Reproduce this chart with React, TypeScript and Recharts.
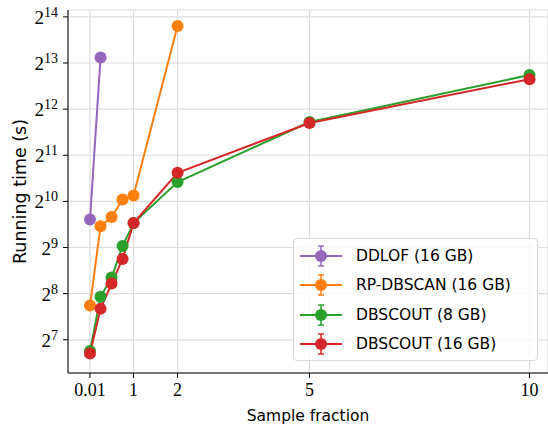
import React from "react"
import { CartesianGrid, Legend, Line, LineChart, XAxis, YAxis } from "recharts"

// sample fractions on the x axis
const fractions = [0.01, 0.25, 0.5, 0.75, 1, 2, 5, 10]

// running times in seconds
const ddlof16 = [781, 8905]
const rpdbscan16 = [214, 704, 809, 1053, 1120, 14263]
const dbscout8 = [108, 244, 326, 523, 739, 1370, 3373, 6841]
const dbscout16 = [104, 204, 298, 431, 739, 1574, 3327, 6428]

const xTicks = [0.01, 1, 2, 5, 10]
const yTicks = [128, 256, 512, 1024, 2048, 4096, 8192, 16384]

const series = [
  { key: "ddlof16", name: "DDLOF (16 GB)", color: "#9467bd", values: ddlof16 },
  { key: "rpdbscan16", name: "RP-DBSCAN (16 GB)", color: "#ff7f0e", values: rpdbscan16 },
  { key: "dbscout8", name: "DBSCOUT (8 GB)", color: "#2ca02c", values: dbscout8 },
  { key: "dbscout16", name: "DBSCOUT (16 GB)", color: "#d62728", values: dbscout16 },
]

const data = fractions.map((f, i) => {
  const row: Record<string, number | undefined> = { f }
  series.forEach((s) => {
    row[s.key] = s.values[i]
  })
  return row
})

const serif = "'Liberation Serif', 'DejaVu Serif', serif"
const sans = "'DejaVu Sans', sans-serif"

function PowTick(props: any) {
  const { x, y, payload } = props
  const e = Math.round(Math.log2(payload.value))
  return (
    <text x={x - 3} y={y + 7} textAnchor="end" fontFamily={serif} fontSize={19} fill="#000">
      <tspan>2</tspan>
      <tspan dy={-7} fontSize={14}>
        {e}
      </tspan>
    </text>
  )
}

function LegendBox() {
  return (
    <div
      style={{
        width: 245,
        height: 123,
        boxSizing: "border-box",
        border: "1px solid #d8d8d8",
        borderRadius: 4,
        background: "rgba(255,255,255,0.85)",
        paddingTop: 2,
      }}
    >
      {series.map((s) => (
        <div key={s.key} style={{ display: "flex", alignItems: "center", height: 29.5 }}>
          <svg width={62} height={24} style={{ flex: "none" }}>
            <line x1={6} x2={48} y1={12} y2={12} stroke={s.color} strokeWidth={2} />
            <line x1={27} x2={27} y1={2} y2={22} stroke={s.color} strokeWidth={1.5} />
            <line x1={24} x2={30} y1={2} y2={2} stroke={s.color} strokeWidth={1.5} />
            <line x1={24} x2={30} y1={22} y2={22} stroke={s.color} strokeWidth={1.5} />
            <circle cx={27} cy={12} r={6} fill={s.color} />
          </svg>
          <span style={{ fontFamily: sans, fontSize: 15.5, color: "#000", whiteSpace: "nowrap" }}>{s.name}</span>
        </div>
      ))}
    </div>
  )
}

export default function App() {
  return (
    <div style={{ position: "absolute", left: 0, top: 0, background: "#fff" }}>
      <LineChart width={548} height={424} data={data} margin={{ top: 10, right: 0, left: 0, bottom: 0 }}>
        <CartesianGrid stroke="#dcdcdc" strokeWidth={1.2} />
        <XAxis
          dataKey="f"
          type="number"
          domain={[-0.49, 10.42]}
          ticks={xTicks}
          allowDataOverflow
          height={51}
          tickSize={5}
          tickMargin={5}
          stroke="#000"
          tick={{ fontFamily: serif, fontSize: 18, fill: "#000" }}
          label={{ value: "Sample fraction", position: "insideBottom", offset: 3, fontFamily: sans, fontSize: 15.5, fill: "#000" }}
        />
        <XAxis xAxisId="top" orientation="top" dataKey="f" type="number" domain={[-0.49, 10.42]} height={0} tick={false} tickLine={false} axisLine={{ stroke: "#555", strokeWidth: 2.5 }} />
        <YAxis
          type="number"
          scale="log"
          domain={[77.7, 18170]}
          ticks={yTicks}
          allowDataOverflow
          width={68}
          tickSize={5}
          stroke="#000"
          tick={<PowTick />}
          label={{ value: "Running time (s)", angle: -90, position: "insideLeft", offset: 20, fontFamily: sans, fontSize: 17.5, fill: "#000", style: { textAnchor: "middle" } }}
        />
        {series.map((s) => (
          <Line
            key={s.key}
            dataKey={s.key}
            name={s.name}
            stroke={s.color}
            strokeWidth={2}
            dot={{ r: 6, fill: s.color, stroke: s.color, strokeWidth: 0 }}
            activeDot={false}
            isAnimationActive={false}
          />
        ))}
        <Legend
          layout="vertical"
          align="center"
          verticalAlign="middle"
          content={() => <LegendBox />}
          wrapperStyle={{ left: 293, top: 238, width: 245, height: 123 }}
        />
      </LineChart>
    </div>
  )
}
